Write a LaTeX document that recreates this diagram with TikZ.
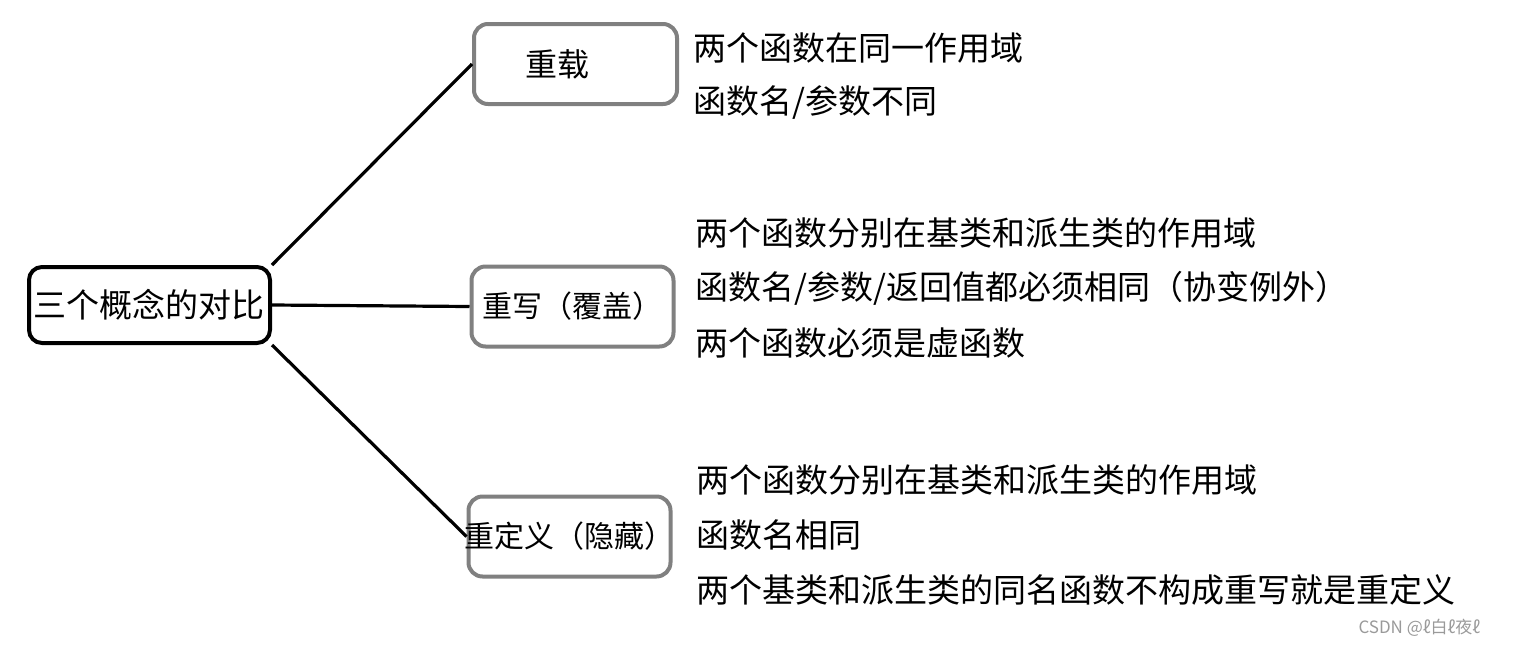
\documentclass[tikz,border=0pt]{standalone}
\usepackage{fontspec}
\setmainfont{Noto Sans CJK SC}
\usetikzlibrary{positioning}
\definecolor{boxgray}{HTML}{808080}
\definecolor{wmgray}{HTML}{9A9A9A}
\tikzset{
  cmp/.style={
    x=1pt, y=-1pt,
    line width=3pt,
  },
  rootbox/.style={
    draw=black, line width=4pt, rounded corners=13pt,
    minimum width=241pt, minimum height=76pt, inner sep=0pt,
    font=\fontsize{33}{40}\selectfont,
  },
  branch/.style={
    draw=boxgray, line width=4pt, rounded corners=14pt,
    minimum width=202pt, minimum height=80pt, inner sep=0pt,
    font=\fontsize{30}{36}\selectfont,
  },
  note/.style={anchor=west, inner sep=0pt, font=\fontsize{33}{40}\selectfont},
  link/.style={draw=black, line width=3.2pt},
  wmtext/.style={anchor=west, inner sep=0pt, text=wmgray, font=\fontsize{17}{19}\selectfont},
}
\begin{document}
\begin{tikzpicture}[cmp]
  \useasboundingbox (0,0) rectangle (1521,646);

  \node[rootbox] (root) at (149.5,305) {三个概念的对比};
  \node[branch, font=\fontsize{32}{38}\selectfont, text width=101pt, inner xsep=51pt, align=left] (zhongzai) at (575.5,64) {重载};
  \node[branch] (chongxie) at (572.5,306.5) {重写（覆盖）};
  \node[branch, inner xsep=-4pt] (yincang) at (569.5,536.5) {重定义（隐藏）};

  \draw[link] (root.north east) -- (zhongzai.west);
  \draw[link] (root.east) -- (chongxie.west);
  \draw[link] (root.south east) -- (yincang.west);

  % 重载
  \node[note] (za) at (692,48) {两个函数在同一作用域};
  \node[note] (zb) at (692,103) {函数名/参数不同};
  % 重写
  \node[note] (xa) at (694,233) {两个函数分别在基类和派生类的作用域};
  \node[note] (xb) at (694,288) {函数名/参数/返回值都必须相同（协变例外）};
  \node[note] (xc) at (694,343) {两个函数必须是虚函数};
  % 重定义
  \node[note] (ya) at (695,480) {两个函数分别在基类和派生类的作用域};
  \node[note] (yb) at (695,535) {函数名相同};
  \node[note] (yc) at (695,590) {两个基类和派生类的同名函数不构成重写就是重定义};

  \node[wmtext] (wm) at (1357,628) {CSDN @ℓ白ℓ夜ℓ};
\end{tikzpicture}
\end{document}
